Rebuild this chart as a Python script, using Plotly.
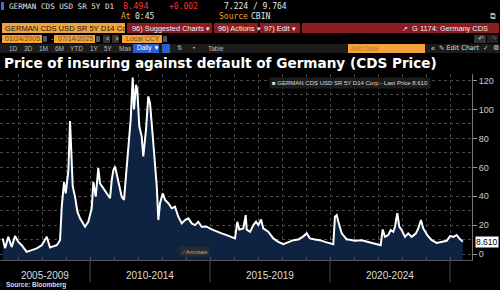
import plotly.graph_objects as go

# ---------------- data ----------------
dates = [
    "2006-05-12", "2006-06-17", "2006-08-06", "2006-09-26", "2006-11-15", "2007-01-05",
    "2007-02-25", "2007-05-12", "2007-07-28", "2007-10-12", "2007-12-27", "2008-03-13",
    "2008-05-01", "2008-08-12", "2008-10-01", "2008-10-27", "2008-12-01", "2008-12-27",
    "2009-02-05", "2009-03-02", "2009-04-12", "2009-05-17", "2009-06-22", "2009-08-01",
    "2009-10-16", "2009-12-05", "2010-01-26", "2010-02-20", "2010-03-28", "2010-05-06",
    "2010-06-01", "2010-07-21", "2010-09-11", "2010-11-01", "2010-11-27", "2010-12-21",
    "2011-01-16", "2011-03-07", "2011-04-27", "2011-06-01", "2011-07-12", "2011-08-06",
    "2011-09-11", "2011-10-12", "2011-11-01", "2011-12-01", "2011-12-20", "2012-01-20",
    "2012-02-25", "2012-03-21", "2012-05-01", "2012-06-05", "2012-07-01", "2012-08-12",
    "2012-09-16", "2012-10-12", "2012-11-05", "2012-12-01", "2013-01-11", "2013-02-15",
    "2013-04-06", "2013-05-28", "2013-07-16", "2013-09-05", "2013-10-27", "2013-12-16",
    "2014-02-05", "2014-03-28", "2014-05-17", "2014-07-06", "2014-08-27", "2014-11-11",
    "2015-01-26", "2015-04-12", "2015-06-27", "2015-09-11", "2015-11-27", "2016-01-16",
    "2016-02-20", "2016-03-21", "2016-05-21", "2016-06-27", "2016-07-12", "2016-09-01",
    "2016-10-21", "2016-12-01", "2017-01-05", "2017-02-15", "2017-03-21", "2017-06-05",
    "2017-08-21", "2017-11-05", "2018-01-20", "2018-04-06", "2018-06-22", "2018-09-05",
    "2018-11-11", "2019-01-11", "2019-03-02", "2019-05-17", "2019-08-01", "2019-10-16",
    "2020-01-01", "2020-02-20", "2020-03-16", "2020-04-12", "2020-05-06", "2020-06-27",
    "2020-09-11", "2020-10-06", "2021-01-16", "2021-04-27", "2021-08-06", "2021-11-15",
    "2022-02-10", "2022-03-13", "2022-04-16", "2022-06-05", "2022-07-12", "2022-08-21",
    "2022-09-16", "2022-10-21", "2022-11-20", "2022-12-27", "2023-02-15", "2023-04-06",
    "2023-05-28", "2023-08-01", "2023-09-05", "2023-10-16", "2023-11-20", "2024-01-20",
    "2024-03-28", "2024-06-12", "2024-08-27", "2024-11-11", "2025-01-01", "2025-02-20",
    "2025-04-12", "2025-05-21", "2025-07-14",
]
cds_price = [
    10.9, 4.2, 12.0, 5.0, 12.5, 8.5,
    6.2, 1.6, 2.8, 4.0, 6.2, 12.0,
    4.6, 6.2, 9.7, 32.9, 50.0, 42.0,
    58.0, 92.0, 46.8, 39.8, 29.4, 24.8,
    19.0, 22.4, 31.7, 50.0, 39.8, 59.5,
    49.0, 45.6, 42.0, 38.7, 51.4, 58.0,
    60.6, 49.0, 39.8, 37.5, 58.0, 74.5,
    93.0, 122.0, 100.0, 117.0, 114.0, 88.4,
    81.5, 67.6, 86.0, 109.0, 104.6, 81.5,
    63.0, 46.8, 23.6, 35.2, 42.0, 37.5,
    35.2, 31.7, 32.8, 25.9, 21.3, 23.6,
    24.8, 21.3, 20.1, 22.4, 19.0, 19.0,
    17.1, 15.5, 14.4, 13.2, 12.0, 10.9,
    22.4, 17.0, 17.8, 27.0, 17.0, 15.5,
    20.1, 22.4, 20.1, 24.0, 17.8, 15.5,
    10.9, 8.5, 6.9, 8.5, 9.7, 10.2,
    12.0, 14.4, 10.9, 10.2, 9.7, 8.5,
    7.4, 6.9, 25.9, 27.0, 22.4, 14.4,
    10.2, 10.2, 9.3, 9.7, 8.5, 7.4,
    6.2, 17.1, 12.0, 13.2, 16.7, 15.5,
    19.0, 28.3, 19.0, 16.7, 12.0, 14.4,
    12.0, 14.4, 17.8, 23.6, 17.8, 13.2,
    9.7, 7.8, 8.5, 9.3, 12.5, 12.0,
    13.2, 10.9, 8.61,
]
last_price = 8.61
y_ticks = [0, 20, 40, 60, 80, 100, 120]
period_labels = ["2005-2009", "2010-2014", "2015-2019", "2020-2024"]
period_label_dates = ["2008-02-15", "2012-07-01", "2017-07-01", "2022-07-01"]
period_breaks = ["2010-01-01", "2015-01-01", "2020-01-01", "2025-01-01"]

Y_MIN, Y_MAX = -4, 124.5
X_MIN, X_MAX = "2006-04-01", "2025-12-01"

# ---------------- layout geometry ----------------
W, H = 500, 290
ML, MR, MT, MB = 0, 28, 74, 30
PW, PH = W - ML - MR, H - MT - MB


def px(x):
    return (x - ML) / PW


def py(y):
    return (MT + PH - y) / PH


fig = go.Figure()
fig.add_trace(go.Scatter(x=dates, y=[Y_MIN] * len(dates), mode="lines",
                         line=dict(width=0), hoverinfo="skip", showlegend=False))
fig.add_trace(go.Scatter(x=dates, y=cds_price, mode="lines", fill="tonexty",
                         fillcolor="#0e2242", line=dict(color="white", width=2),
                         showlegend=False))

shapes = []
ann = []

# period separators below the axis
for d in period_breaks:
    shapes.append(dict(type="line", xref="x", yref="paper", x0=d, x1=d,
                       y0=0, y1=py(282), line=dict(color="#4a4a4a", width=1)))
for lab, d in zip(period_labels, period_label_dates):
    ann.append(dict(text=lab, x=d, y=py(275), xref="x", yref="paper", showarrow=False,
                    xanchor="center", yanchor="middle",
                    font=dict(family="Liberation Sans", size=10, color="#dddddd")))
ann.append(dict(text="<b>Source: Bloomberg</b>", x=px(4), y=py(285), xref="paper", yref="paper",
                showarrow=False, xanchor="left", yanchor="middle",
                font=dict(family="Liberation Sans", size=6.5, color="#dddddd")))

# last price tag
ann.append(dict(text="8.610", x=1, y=last_price, xref="paper", yref="y", showarrow=False,
                xanchor="left", yanchor="middle", xshift=3, bgcolor="white",
                borderpad=0, font=dict(family="Liberation Sans", size=8.5, color="black")))

# legend box
ann.append(dict(text="\u25A0 GERMAN CDS USD SR 5Y D14 Corp - Last Price 8.610",
                x=px(269), y=py(83), xref="paper", yref="paper", showarrow=False,
                xanchor="left", yanchor="middle", bgcolor="#1c1c1c", borderpad=2,
                font=dict(family="Liberation Sans", size=6, color="#dddddd")))
# annotate button
ann.append(dict(text="\u2044 Annotate", x=px(179), y=py(251), xref="paper", yref="paper",
                showarrow=False, xanchor="left", yanchor="middle", bgcolor="#2a2a2a",
                borderpad=1.5, font=dict(family="Liberation Sans", size=5.5, color="#aaaaaa")))

# title
ann.append(dict(text="<b>Price of insuring against default of Germany (CDS Price)</b>",
                x=px(2), y=py(63), xref="paper", yref="paper", showarrow=False,
                xanchor="left", yanchor="middle",
                font=dict(family="DejaVu Sans", size=13.6, color="white")))


def rect(x0, y0, x1, y1, color):
    shapes.append(dict(type="rect", xref="paper", yref="paper", x0=px(x0), x1=px(x1),
                       y0=py(y1), y1=py(y0), fillcolor=color, line=dict(width=0), layer="above"))


def text(t, x, y, size=7, color="#dddddd", family="DejaVu Sans Mono", anchor="left"):
    ann.append(dict(text=t, x=px(x), y=py(y), xref="paper", yref="paper", showarrow=False,
                    xanchor=anchor, yanchor="middle", font=dict(family=family, size=size, color=color)))


# ---- header row 1/2 ----
rect(1, 2, 4, 10, "#3b6fe0")
text("GERMAN CDS USD SR 5Y D1", 7, 6, size=7.6, color="#e6e6e6")
text("8.494", 121, 6, size=8.5, color="#ff3333")
text("+0.002", 167, 6, size=8, color="#ff3333")
text("7.224 / 9.764", 222, 6, size=8, color="#e6e6e6")
text("At", 119, 16.5, size=8, color="#f0a030")
text("0:45", 133, 16.5, size=8, color="#e6e6e6")
text("Source", 217, 16.5, size=8, color="#f0a030")
text("CBIN", 249, 16.5, size=8, color="#e6e6e6")
text("\u29c9", 488, 16, size=8, color="#bbbbbb", family="DejaVu Sans")

# ---- row 3 ----
rect(2, 23, 125, 33, "#f2a43a")
text("GERMAN CDS USD SR 5Y D14 Co", 3, 28, size=7.6, color="#111111", family="Liberation Sans")
rect(127, 23, 499, 33, "#8c1c20")
rect(212, 23, 214, 33, "#000000")
rect(258, 23, 260, 33, "#000000")
rect(300, 23, 302, 33, "#000000")
text("96) Suggested Charts \u25BE", 130, 28, size=7.4, color="#f0f0f0", family="Liberation Sans")
text("96) Actions \u25BE", 216, 28, size=7.4, color="#f0f0f0", family="Liberation Sans")
text("97) Edit \u25BE", 262, 28, size=7.4, color="#f0f0f0", family="Liberation Sans")
text("\u2197  G 1174: Germany CDS", 400, 28, size=7.4, color="#f0f0f0", family="Liberation Sans")

# ---- row 4 ----
rect(2, 35, 42, 43, "#f2a43a")
text("01/24/2005", 3, 39, size=7, color="#7a4a10", family="Liberation Sans")
rect(43, 36, 47, 42, "#555555")
text("-", 49, 39, size=7, color="#dddddd", family="Liberation Sans")
rect(54, 35, 95, 43, "#f2a43a")
text("07/14/2025", 56, 39, size=7, color="#7a4a10", family="Liberation Sans")
rect(96, 36, 100, 42, "#555555")
rect(103, 35, 110, 43, "#333333")
rect(112, 35, 119, 43, "#333333")
text("<", 104, 39, size=6.5, color="#dddddd", family="Liberation Sans")
text(">", 113, 39, size=6.5, color="#dddddd", family="Liberation Sans")
rect(122, 35, 162, 43, "#f2a43a")
text("Local CCY", 124, 39, size=7, color="#7a4a10", family="Liberation Sans")
rect(163, 36, 167, 42, "#555555")
rect(474, 35, 486, 43, "#333333")
rect(487, 35, 498, 43, "#222222")
text("\u21b6", 476, 39, size=7, color="#cccccc", family="DejaVu Sans")
text("\u21b7", 489, 39, size=7, color="#666666", family="DejaVu Sans")

# ---- row 5 ----
rect(0, 44, 500, 53, "#1c1c1c")
for lab, xx in zip(["1D", "3D", "1M", "6M", "YTD", "1Y", "5Y", "Max"],
                   [7, 22, 37, 53, 68, 88, 102, 117]):
    text(lab, xx, 48.5, size=6.5, color="#bbbbbb", family="Liberation Sans")
rect(133, 44, 159, 53, "#2a5fd0")
text("Daily \u25BC", 135, 48.5, size=6.5, color="white", family="Liberation Sans")
rect(162, 44, 170, 53, "#2a5fd0")
text("\u21c5", 175, 48.5, size=6.5, color="#bbbbbb", family="DejaVu Sans")
text("\u2022", 190, 48.5, size=6.5, color="#bbbbbb", family="DejaVu Sans")
text("Table", 206, 48.5, size=6.5, color="#bbbbbb", family="Liberation Sans")
rect(348, 44, 425, 53, "#f2a43a")
text("Add Data", 349, 48.5, size=6.5, color="#c07a20", family="Liberation Sans")
text("\u00ab", 429, 48.5, size=7, color="#dddddd", family="Liberation Sans")
text("\u270e Edit Chart", 437, 48.5, size=6.5, color="#dddddd", family="DejaVu Sans")
text("\u2713", 481, 48.5, size=6.5, color="#dddddd", family="DejaVu Sans")
text("\u2699", 491, 48.5, size=7, color="#dddddd", family="DejaVu Sans")

fig.update_layout(
    width=W, height=H, margin=dict(l=ML, r=MR, t=MT, b=MB),
    paper_bgcolor="black", plot_bgcolor="black",
    shapes=shapes, annotations=ann, showlegend=False,
    xaxis=dict(range=[X_MIN, X_MAX], type="date", showticklabels=False,
               tick0="2006-01-01", dtick="M12", showgrid=True, gridcolor="#4a4a4a",
               griddash="dot", gridwidth=1, ticks="inside", ticklen=3, tickcolor="#555555",
               showline=True, linecolor="#555555", zeroline=False),
    yaxis=dict(range=[Y_MIN, Y_MAX], side="right", tickvals=y_ticks,
               showgrid=True, gridcolor="#4a4a4a", griddash="dot", gridwidth=1,
               ticks="outside", ticklen=4, tickcolor="#999999",
               showline=True, linecolor="#777777", zeroline=False,
               tickfont=dict(family="Liberation Sans", size=9, color="#cccccc")),
)
# horizontal gridlines every 10 (minor)
fig.update_yaxes(minor=dict(dtick=10, showgrid=True, gridcolor="#4a4a4a", griddash="dot"))

fig.write_html("out.html")
